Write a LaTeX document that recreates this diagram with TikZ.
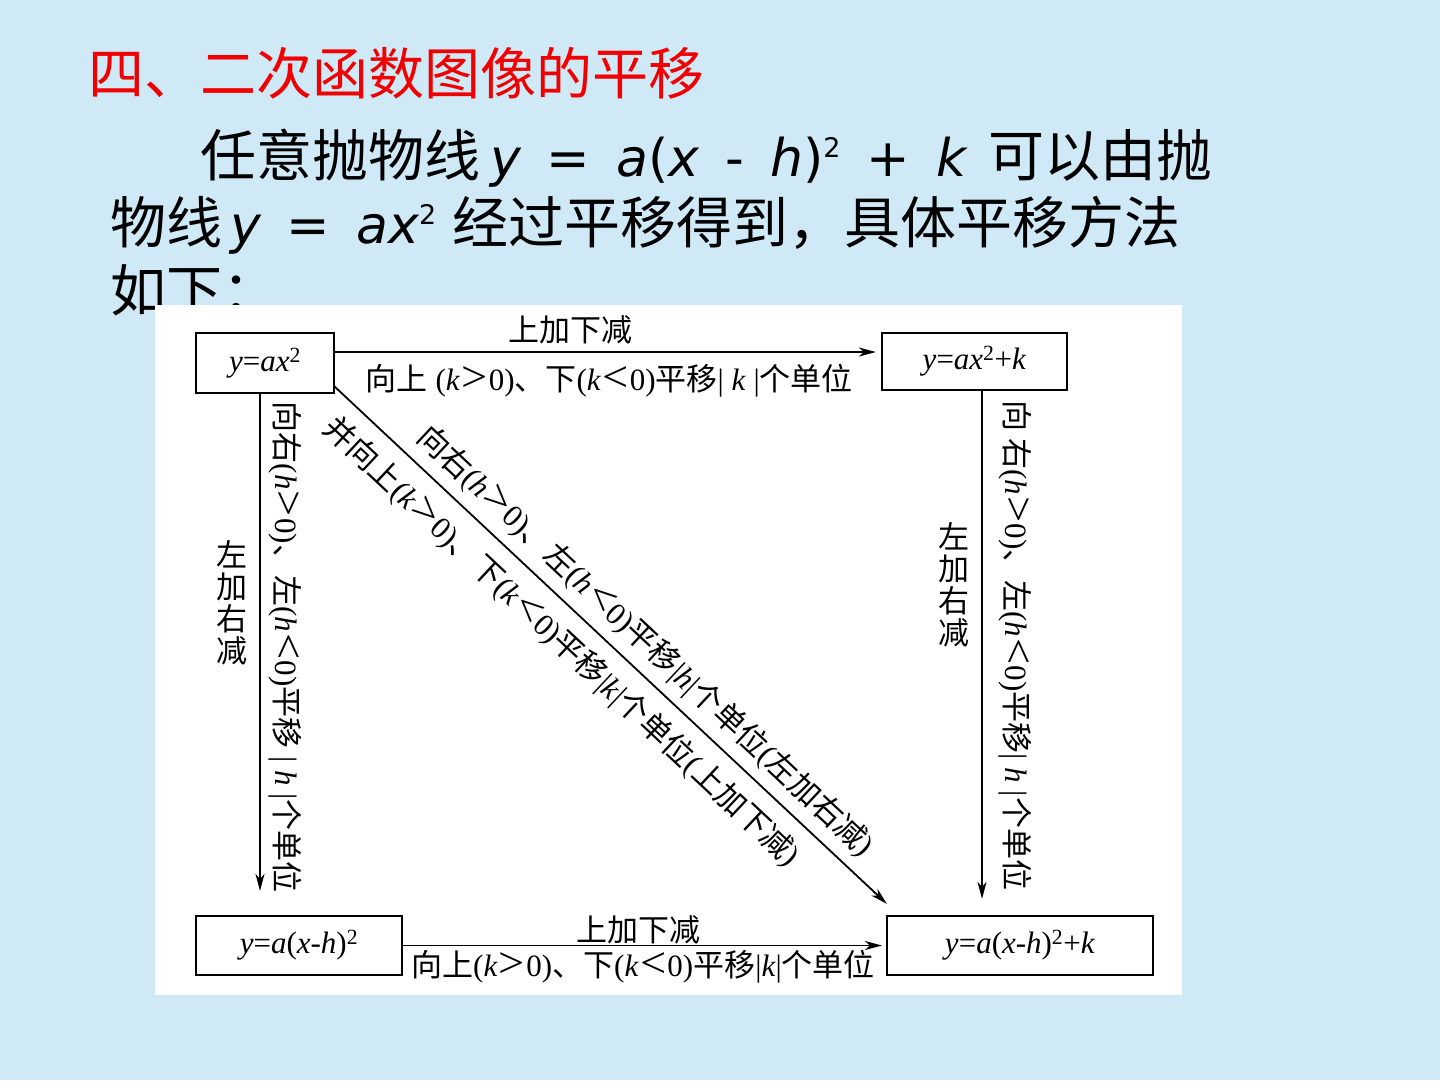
\documentclass[tikz,border=0pt]{standalone}
\usepackage{fontspec}
\usepackage{graphicx}
\setmainfont{Liberation Serif}
\newfontfamily\cjk{Noto Sans CJK SC}
\newfontfamily\dvs{DejaVu Sans}
\usetikzlibrary{arrows.meta}
\definecolor{bgblue}{RGB}{207,233,246}
\definecolor{titlered}{RGB}{240,0,0}
\newcommand\zh[1]{{\cjk #1}}
\newcommand\vi[1]{\textit{#1}}
\newcommand\sq{\textsuperscript{2}}
\newcommand\ob[1]{{\itshape #1}}
\newcommand\bigsq{\raisebox{0.36em}{\fontsize{27}{27}\selectfont 2}}
\newcommand\gap{\hspace{0.5em}}
\newcommand\mygt{\hspace{0.04em}\raisebox{-0.04em}{\scalebox{1.5}[1.4]{>}}\hspace{0.04em}}
\newcommand\mylt{\hspace{0.04em}\raisebox{-0.04em}{\scalebox{1.5}[1.4]{<}}\hspace{0.04em}}
\begin{document}
\begin{tikzpicture}[x=1pt,y=-1pt,
  box/.style={draw, line width=2.2pt, inner sep=0pt, font=\fontsize{31}{31}\selectfont},
  conn/.style={line width=1.8pt, -{Stealth[length=17pt,width=9pt,inset=5pt]}},
  lab/.style={inner sep=0pt, font=\fontsize{31}{31}\selectfont},
  stack/.style={inner sep=0pt, align=center, font=\fontsize{31}{32}\selectfont\cjk},
  big/.style={inner sep=0pt, anchor=base west, font=\fontsize{56}{56}\selectfont\cjk},
  latin/.style={inner sep=0pt, anchor=base west, font=\fontsize{52}{52}\selectfont\dvs},
  ]
\useasboundingbox (0,0) rectangle (1440,1080);
\fill[bgblue] (0,0) rectangle (1440,1080);
% heading and text
\node[big, text=titlered] (title) at (88,94) {四、二次函数图像的平移};
\node[big] (l1a) at (200,176) {任意抛物线};
\node[latin] (l1b) at (490,176) {\ob{y}\gap=\gap\ob{a}(\ob{x}\gap-\gap\ob{h})\bigsq\gap+\gap\ob{k}};
\node[big] (l1c) at (988,176) {可以由抛};
\node[big] (l2a) at (110,243) {物线};
\node[latin] (l2b) at (230,243) {\ob{y}\gap=\gap\ob{ax}\bigsq};
\node[big] (l2c) at (452,243) {经过平移得到，具体平移方法};
\node[big] (l3) at (110,311) {如下：};
% white panel
\fill[white] (155,305) rectangle (1182,995);
% boxes
\node[box, minimum width=138pt, minimum height=60pt] (A) at (265,363) {\vi{y}=\vi{ax}\sq};
\node[box, minimum width=185pt, minimum height=57pt] (B) at (974.5,361.5) {\vi{y}=\vi{ax}\sq+\vi{k}};
\node[box, minimum width=206pt, minimum height=59pt] (C) at (299,945.5) {\vi{y}=\vi{a}(\vi{x}-\vi{h})\sq};
\node[box, minimum width=266pt, minimum height=59pt] (D) at (1020,945.5) {\vi{y}=\vi{a}(\vi{x}-\vi{h})\sq+\vi{k}};
% top horizontal
\draw[conn] ([yshift=11pt]A.east) -- ([shift={(-5,-9.5)}]B.west)
  node[lab, pos=0.436, above, inner ysep=7pt] (t1) {\zh{上加下减}}
  node[lab, pos=0.507, below, inner ysep=11pt] (t2) {\zh{向上} (\vi{k}\mygt0)\zh{、下}(\vi{k}\mylt0)\zh{平移}| \vi{k} |\zh{个单位}};
% left vertical
\coordinate (Ls) at ([xshift=-5pt]A.south);
\coordinate (Le) at (Ls |- C.north);
\draw[conn, shorten >=24pt] (Ls) -- (Le)
  node[lab, pos=0.486, sloped, above, inner ysep=8pt] (v1) {\zh{向右}(\vi{h}\mygt0)\zh{、左}(\vi{h}\mylt0)\zh{平移} | \vi{h} |\zh{个单位}}
  node[stack, pos=0.40, left, inner xsep=12pt] (v1s) {左\\加\\右\\减};
% right vertical
\coordinate (Rs) at ([xshift=7.5pt]B.south);
\coordinate (Re) at (Rs |- D.north);
\draw[conn, shorten >=16pt] (Rs) -- (Re)
  node[lab, pos=0.485, sloped, above, inner ysep=16pt] (v2) {\zh{向 右}(\vi{h}\mygt0)\zh{、左}(\vi{h}\mylt0)\zh{平移}| \vi{h} |\zh{个单位}}
  node[stack, pos=0.37, left, inner xsep=11.5pt] (v2s) {左\\加\\右\\减};
% diagonal
\coordinate (Ds) at ([shift={(-1,-8)}]A.south east);
\coordinate (De) at ([shift={(1,-11)}]D.north west);
\draw[conn] (Ds) -- (De)
  node[lab, pos=0.53, sloped, above, inner ysep=9pt] (d1) {\zh{向右}(\vi{h}\mygt0)\zh{、左}(\vi{h}\mylt0)\zh{平移}|\vi{h}|\zh{个单位}(\zh{左加右减})}
  node[lab, pos=0.45, sloped, below, inner ysep=14pt] (d2) {\zh{并向上}(\vi{k}\mygt0)\zh{、下}(\vi{k}\mylt0)\zh{平移}|\vi{k}|\zh{个单位}(\zh{上加下减})};
% bottom horizontal
\draw[conn, shorten >=4pt] (C.east) -- (D.west)
  node[lab, pos=0.487, above, inner ysep=1pt] (b1) {\zh{上加下减}}
  node[lab, pos=0.497, below, inner ysep=4pt] (b2) {\zh{向上}(\vi{k}\mygt0)\zh{、下}(\vi{k}\mylt0)\zh{平移}|\vi{k}|\zh{个单位}};
\end{tikzpicture}
\end{document}
